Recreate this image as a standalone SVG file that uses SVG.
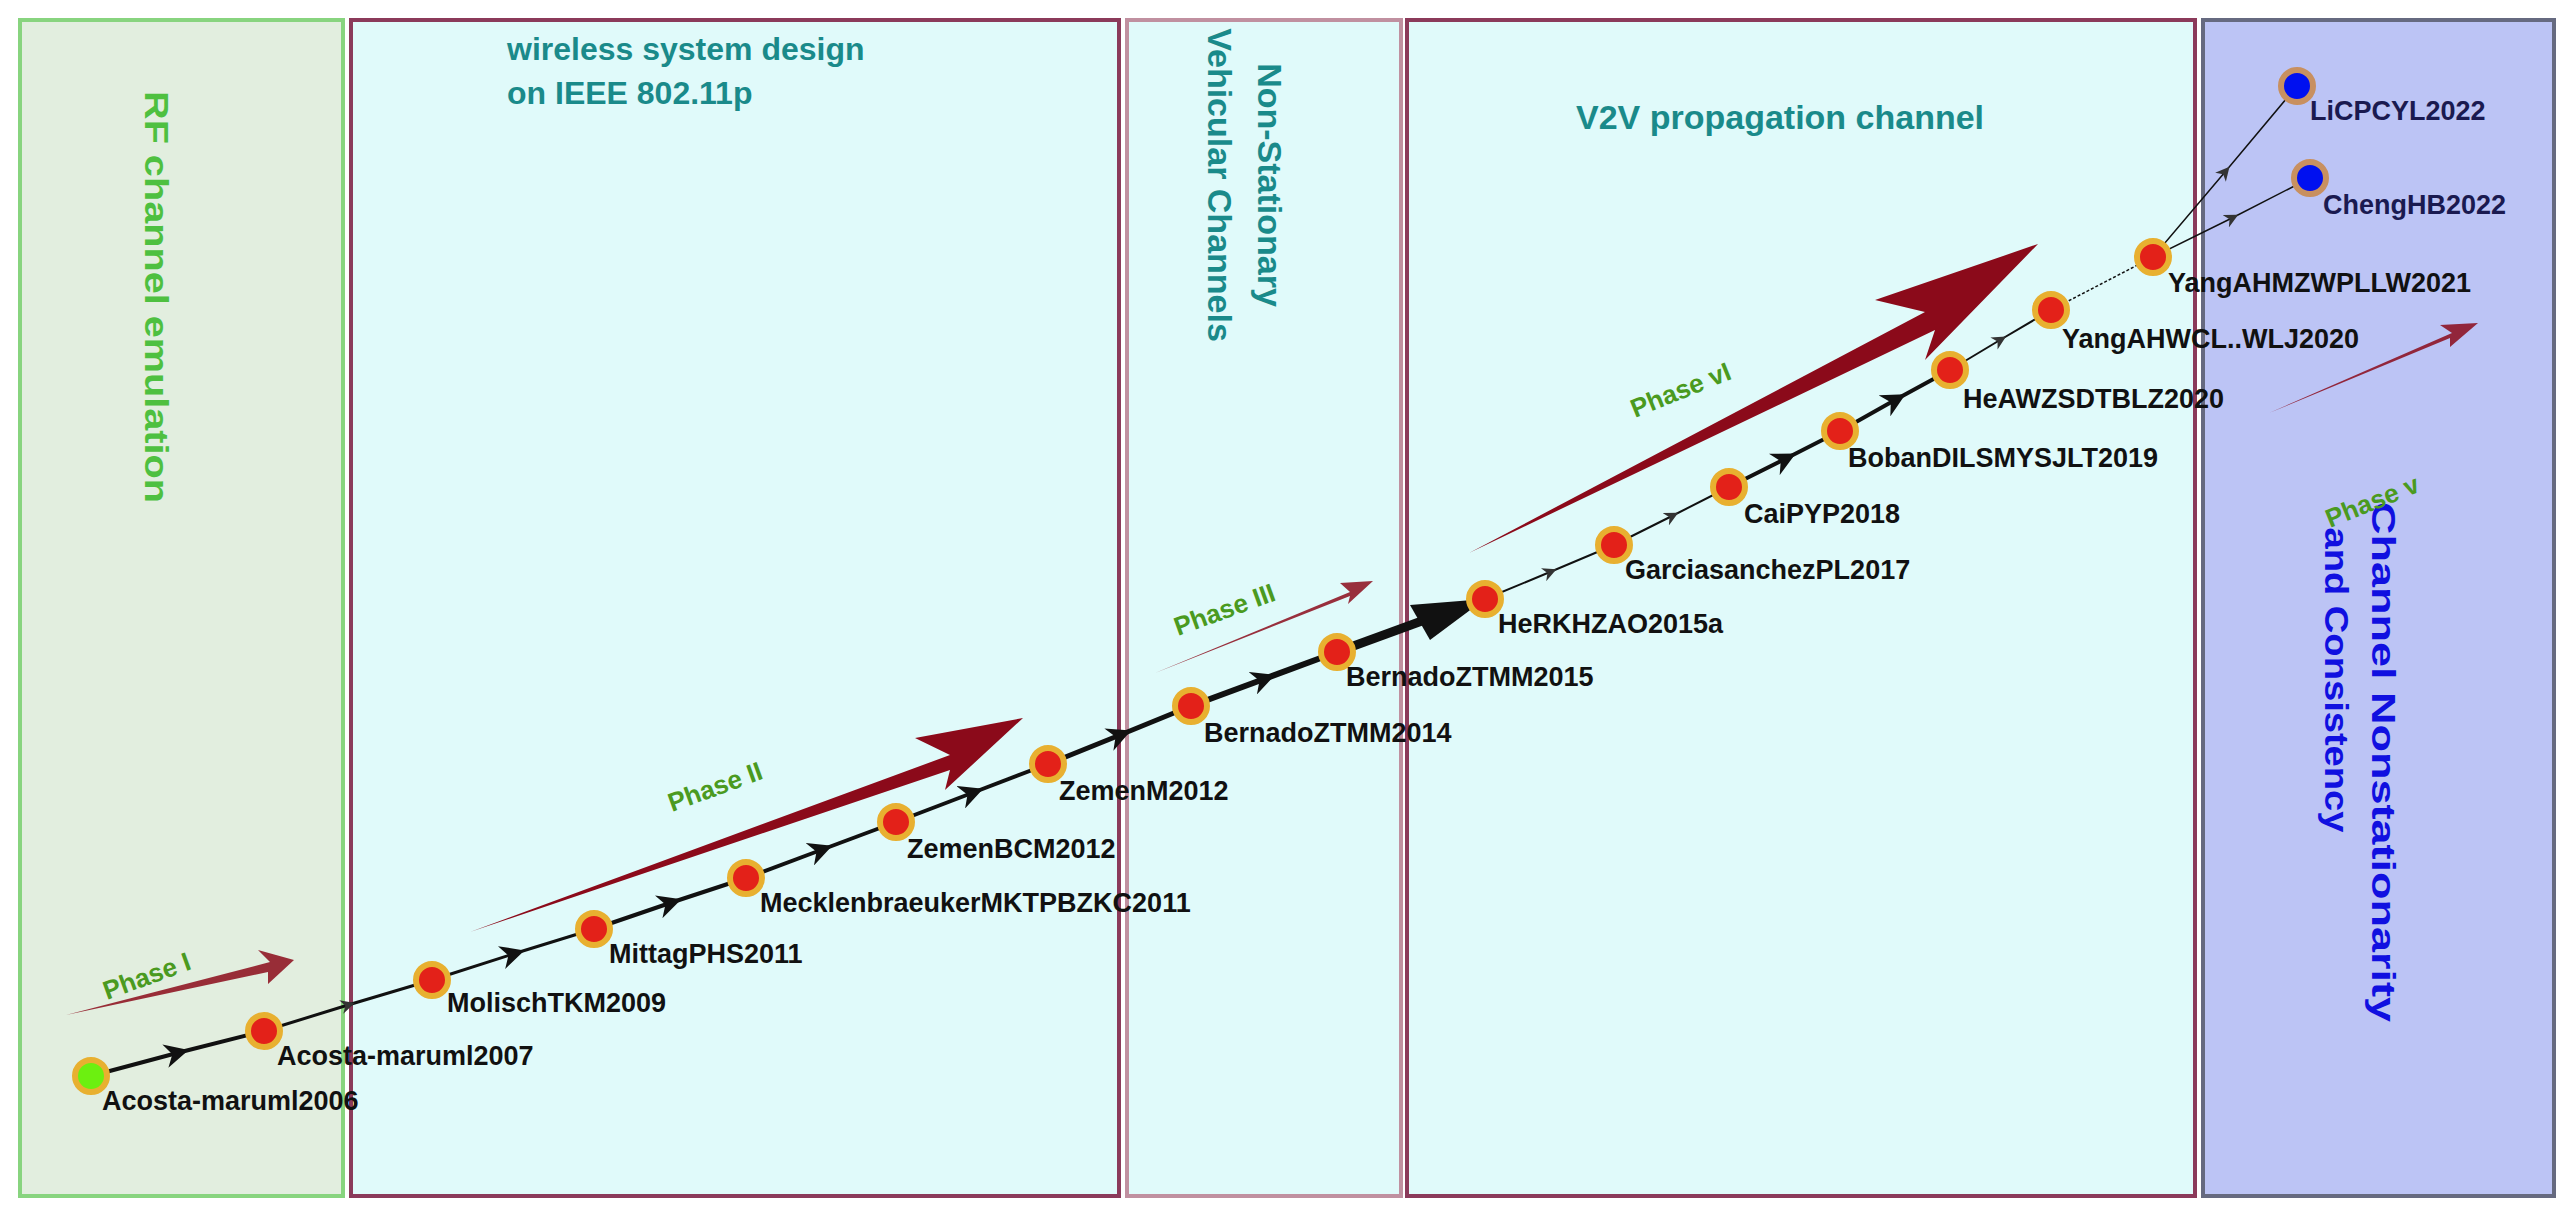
<svg xmlns="http://www.w3.org/2000/svg" width="2575" height="1218" viewBox="0 0 2575 1218">
<style>
text{font-family:"Liberation Sans",Arial,sans-serif;font-weight:bold}
.lbl{font-size:27px;fill:#111}
.ttl{font-size:34px;fill:#1a8a8a}
.ph{font-size:26px;fill:#4a9a20;font-weight:bold}
.n{fill:#e32119;stroke:#e8b030;stroke-width:6}
.nb{fill:#0010f0;stroke:#c89060;stroke-width:6}
.e{fill:none;stroke:#111}
.big{fill:#8b0a1a}
</style>
<defs>
<marker id="am" viewBox="0 0 10 10" refX="5" refY="5" markerWidth="24" markerHeight="24" orient="auto" markerUnits="userSpaceOnUse"><path d="M0,0L10,5L0,10L3,5Z" fill="#111"/></marker>
<marker id="as" viewBox="0 0 10 10" refX="5" refY="5" markerWidth="14" markerHeight="14" orient="auto" markerUnits="userSpaceOnUse"><path d="M0,0L10,5L0,10L3,5Z" fill="#333"/></marker>
</defs>
<g id="panels">
<rect x="20" y="20" width="323" height="1176" fill="#e2eedf" stroke="#88d47f" stroke-width="4"/>
<rect x="351" y="20" width="768" height="1176" fill="#e0fafa" stroke="#8b3a5a" stroke-width="4"/>
<rect x="1127" y="20" width="274" height="1176" fill="#e0fafa" stroke="#c090a0" stroke-width="4"/>
<rect x="1407" y="20" width="788" height="1176" fill="#e0fafa" stroke="#8b3a5a" stroke-width="4"/>
<rect x="2203" y="20" width="351" height="1176" fill="#bcc4f5" stroke="#666a80" stroke-width="4"/>
<text class="ttl" transform="translate(145,297) rotate(90)" text-anchor="middle" style="fill:#4ec040" textLength="412" lengthAdjust="spacingAndGlyphs">RF channel emulation</text>
<text class="ttl" x="507" y="60" style="font-size:32px">wireless system design</text>
<text class="ttl" x="507" y="104" style="font-size:32px">on IEEE 802.11p</text>
<text class="ttl" transform="translate(1258,185) rotate(90)" text-anchor="middle">Non-Stationary</text>
<text class="ttl" transform="translate(1208,185) rotate(90)" text-anchor="middle">Vehicular Channels</text>
<text class="ttl" x="1576" y="129">V2V propagation channel</text>
<text class="ttl" transform="translate(2372,762) rotate(90)" text-anchor="middle" style="fill:#1010e0" textLength="520" lengthAdjust="spacingAndGlyphs">Channel Nonstationarity</text>
<text class="ttl" transform="translate(2325,680) rotate(90)" text-anchor="middle" style="fill:#1010e0" textLength="305" lengthAdjust="spacingAndGlyphs">and Consistency</text>
</g>
<g id="phases">
<path class="big" d="M66,1015 L270,962 L258,950 L294,960 L268,984 L268,972 Z" opacity="0.85"/>
<path class="big" d="M470,932 L950,755 L915,738 L1023,718 L945,790 L950,770 Z"/>
<path class="big" d="M1155,673 L1350,592 L1340,583 L1373,581 L1348,604 L1350,596 Z" opacity="0.85"/>
<path class="big" d="M1469,553 L1925,312 L1875,300 L2038,244 L1925,360 L1935,330 Z"/>
<path class="big" d="M2269,413 L2452,333 L2440,325 L2478,323 L2450,347 L2450,338 Z" opacity="0.85"/>
<text class="ph" transform="translate(107,1000) rotate(-20)">Phase  I</text>
<text class="ph" transform="translate(672,812) rotate(-20)">Phase  II</text>
<text class="ph" transform="translate(1178,636) rotate(-20)">Phase  III</text>
<text class="ph" transform="translate(1635,418) rotate(-22)">Phase  vI</text>
<text class="ph" transform="translate(2330,528) rotate(-22)">Phase  v</text>
</g>
<g id="connectors">
<path class="e" stroke-width="4" marker-mid="url(#am)" d="M91,1076 L177,1053 L264,1031"/>
<path class="e" stroke-width="3" marker-mid="url(#as)" d="M264,1031 L348,1005 L432,980"/>
<path class="e" stroke-width="3" marker-mid="url(#am)" d="M432,980 L513,954 L594,929"/>
<path class="e" stroke-width="4" marker-mid="url(#am)" d="M594,929 L670,903 L746,878"/>
<path class="e" stroke-width="4" marker-mid="url(#am)" d="M746,878 L821,850 L896,822"/>
<path class="e" stroke-width="4" marker-mid="url(#am)" d="M896,822 L972,793 L1048,764"/>
<path class="e" stroke-width="5" marker-mid="url(#am)" d="M1048,764 L1120,735 L1191,706"/>
<path class="e" stroke-width="6" marker-mid="url(#am)" d="M1191,706 L1264,679 L1337,652"/>
<path class="e" stroke-width="9" d="M1337,652 L1430,618"/>
<path fill="#111" d="M1410,605 L1485,599 L1430,640 Z"/>
<path class="e" stroke-width="2" marker-mid="url(#as)" d="M1485,599 L1550,572 L1614,545"/>
<path class="e" stroke-width="2" marker-mid="url(#as)" d="M1614,545 L1672,516 L1729,487"/>
<path class="e" stroke-width="4" marker-mid="url(#am)" d="M1729,487 L1785,459 L1840,431"/>
<path class="e" stroke-width="4" marker-mid="url(#am)" d="M1840,431 L1895,400 L1950,370"/>
<path class="e" stroke-width="2" marker-mid="url(#as)" d="M1950,370 L2000,340 L2051,310"/>
<path class="e" stroke-width="1.5" stroke="#666" stroke-dasharray="3 2" d="M2051,310 L2153,257"/>
<path class="e" stroke-width="1.5" stroke="#334" marker-mid="url(#as)" d="M2153,257 L2225,172 L2297,86"/>
<path class="e" stroke-width="1.5" stroke="#334" marker-mid="url(#as)" d="M2153,257 L2232,218 L2310,178"/>
</g>
<g id="nodes">
<g id="n1"><circle cx="91" cy="1076" r="16" fill="#6cf010" stroke="#e8b030" stroke-width="6"/><text class="lbl" x="102" y="1110">Acosta-maruml2006</text></g>
<g id="n2"><circle class="n" cx="264" cy="1031" r="16"/><text class="lbl" x="277" y="1065">Acosta-maruml2007</text></g>
<g id="n3"><circle class="n" cx="432" cy="980" r="16"/><text class="lbl" x="447" y="1012">MolischTKM2009</text></g>
<g id="n4"><circle class="n" cx="594" cy="929" r="16"/><text class="lbl" x="609" y="963">MittagPHS2011</text></g>
<g id="n5"><circle class="n" cx="746" cy="878" r="16"/><text class="lbl" x="760" y="912">MecklenbraeukerMKTPBZKC2011</text></g>
<g id="n6"><circle class="n" cx="896" cy="822" r="16"/><text class="lbl" x="907" y="858">ZemenBCM2012</text></g>
<g id="n7"><circle class="n" cx="1048" cy="764" r="16"/><text class="lbl" x="1059" y="800">ZemenM2012</text></g>
<g id="n8"><circle class="n" cx="1191" cy="706" r="16"/><text class="lbl" x="1204" y="742">BernadoZTMM2014</text></g>
<g id="n9"><circle class="n" cx="1337" cy="652" r="16"/><text class="lbl" x="1346" y="686">BernadoZTMM2015</text></g>
<g id="n10"><circle class="n" cx="1485" cy="599" r="16"/><text class="lbl" x="1498" y="633">HeRKHZAO2015a</text></g>
<g id="n11"><circle class="n" cx="1614" cy="545" r="16"/><text class="lbl" x="1625" y="579">GarciasanchezPL2017</text></g>
<g id="n12"><circle class="n" cx="1729" cy="487" r="16"/><text class="lbl" x="1744" y="523">CaiPYP2018</text></g>
<g id="n13"><circle class="n" cx="1840" cy="431" r="16"/><text class="lbl" x="1848" y="467">BobanDILSMYSJLT2019</text></g>
<g id="n14"><circle class="n" cx="1950" cy="370" r="16"/><text class="lbl" x="1963" y="408">HeAWZSDTBLZ2020</text></g>
<g id="n15"><circle class="n" cx="2051" cy="310" r="16"/><text class="lbl" x="2062" y="348">YangAHWCL..WLJ2020</text></g>
<g id="n16"><circle class="n" cx="2153" cy="257" r="16"/><text class="lbl" x="2168" y="292">YangAHMZWPLLW2021</text></g>
<g id="n17"><circle class="nb" cx="2297" cy="86" r="16"/><text class="lbl" x="2310" y="120" style="fill:#1a1a50">LiCPCYL2022</text></g>
<g id="n18"><circle class="nb" cx="2310" cy="178" r="16"/><text class="lbl" x="2323" y="214" style="fill:#1a1a50">ChengHB2022</text></g>
</g>
</svg>
